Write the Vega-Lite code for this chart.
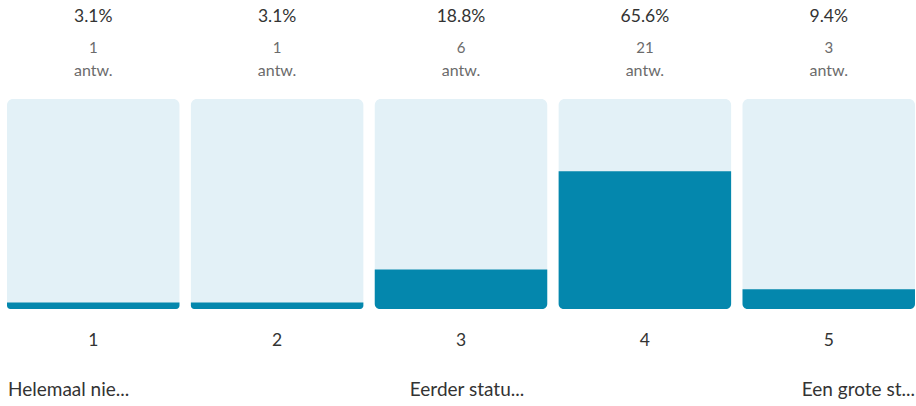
{
  "$schema": "https://vega.github.io/schema/vega-lite/v6.json",
  "autosize": "none",
  "width": 908,
  "height": 406,
  "padding": {"left": 7, "right": 1, "top": 0, "bottom": 0},
  "background": "white",
  "config": {"view": {"stroke": null}, "text": {"font": "Lato"}},
  "data": {"values": [
    {"cat": "1", "pct": 3.1, "pctText": "3.1%", "count": 1, "label": "Helemaal nie..."},
    {"cat": "2", "pct": 3.1, "pctText": "3.1%", "count": 1, "label": ""},
    {"cat": "3", "pct": 18.8, "pctText": "18.8%", "count": 6, "label": "Eerder statu..."},
    {"cat": "4", "pct": 65.6, "pctText": "65.6%", "count": 21, "label": ""},
    {"cat": "5", "pct": 9.4, "pctText": "9.4%", "count": 3, "label": "Een grote st..."}
  ]},
  "encoding": {
    "x": {"field": "cat", "type": "ordinal", "axis": null,
          "scale": {"paddingInner": 0.062, "paddingOuter": 0}}
  },
  "layer": [
    {
      "mark": {"type": "bar", "color": "#e3f1f7", "cornerRadius": 6},
      "encoding": {
        "y": {"datum": 100, "type": "quantitative", "axis": null,
              "scale": {"domain": [-46.19, 147.14], "nice": false, "zero": false}},
        "y2": {"datum": 0}
      }
    },
    {
      "mark": {"type": "bar", "color": "#0487ad", "cornerRadiusBottomLeft": 5, "cornerRadiusBottomRight": 5},
      "encoding": {
        "y": {"field": "pct", "type": "quantitative"},
        "y2": {"datum": 0}
      }
    },
    {
      "mark": {"type": "text", "fontSize": 17.5, "color": "#333333", "baseline": "middle"},
      "encoding": {"y": {"datum": 139.0}, "text": {"field": "pctText"}}
    },
    {
      "mark": {"type": "text", "fontSize": 15, "color": "#6b6b6b", "baseline": "middle"},
      "encoding": {"y": {"datum": 124.3}, "text": {"field": "count"}}
    },
    {
      "mark": {"type": "text", "fontSize": 16, "color": "#6b6b6b", "baseline": "middle", "text": "antw."},
      "encoding": {"y": {"datum": 113.3}}
    },
    {
      "mark": {"type": "text", "fontSize": 17.5, "color": "#333333", "baseline": "middle"},
      "encoding": {"y": {"datum": -15.2}, "text": {"field": "cat"}}
    },
    {
      "transform": [{"filter": "datum.cat == '1'"}],
      "mark": {"type": "text", "fontSize": 19, "color": "#333333", "baseline": "middle", "align": "left", "dx": 1},
      "encoding": {"x": {"field": "cat", "type": "ordinal", "bandPosition": 0}, "y": {"datum": -38.6}, "text": {"field": "label"}}
    },
    {
      "transform": [{"filter": "datum.cat == '3'"}],
      "mark": {"type": "text", "fontSize": 19, "color": "#333333", "baseline": "middle", "align": "center", "dx": 6},
      "encoding": {"y": {"datum": -38.6}, "text": {"field": "label"}}
    },
    {
      "transform": [{"filter": "datum.cat == '5'"}],
      "mark": {"type": "text", "fontSize": 19, "color": "#333333", "baseline": "middle", "align": "right", "dx": 0},
      "encoding": {"x": {"field": "cat", "type": "ordinal", "bandPosition": 1}, "y": {"datum": -38.6}, "text": {"field": "label"}}
    }
  ]
}
